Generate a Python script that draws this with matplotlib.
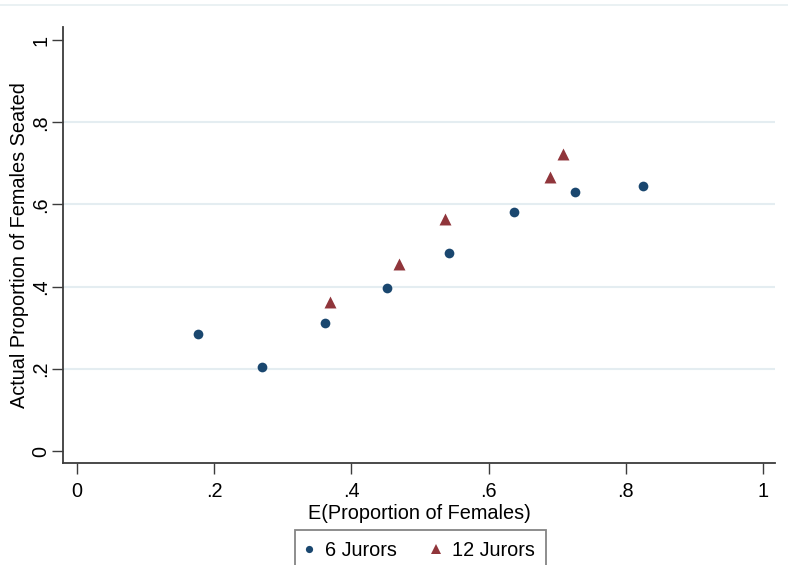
import matplotlib
matplotlib.use("Agg")
import matplotlib.pyplot as plt
from matplotlib.lines import Line2D

# Data
x6 = [0.176, 0.270, 0.362, 0.452, 0.542, 0.637, 0.726, 0.825]
y6 = [0.286, 0.204, 0.312, 0.397, 0.483, 0.581, 0.630, 0.645]
x12 = [0.369, 0.470, 0.537, 0.689, 0.709]
y12 = [0.362, 0.455, 0.564, 0.667, 0.722]
ticks = [0, 0.2, 0.4, 0.6, 0.8, 1]
tick_labels = ["0", ".2", ".4", ".6", ".8", "1"]
series_labels = ["6 Jurors", "12 Jurors"]

navy = "#1a476f"
maroon = "#90353b"
axis_col = "#3c3c3c"
grid_col = "#e4edf1"
FS = 14.3

plt.rcParams["font.family"] = ["Liberation Sans", "DejaVu Sans"]

fig = plt.figure(figsize=(7.88, 5.65), dpi=100)
ax = fig.add_axes([63/788, (565-463)/565, (775-63)/788, (463-27)/565])

ax.scatter(x6, y6, s=7.0**2, marker="o", color=navy, zorder=3, linewidths=0)
ax.scatter(x12, y12, s=8.6**2, marker="^", color=maroon, zorder=3, linewidths=0)

ax.set_xlim(-0.0204, 1.0175)
ax.set_ylim(-0.029, 1.0316)

ax.set_xticks(ticks)
ax.set_xticklabels(tick_labels)
ax.set_yticks(ticks)
ax.set_yticklabels(tick_labels, rotation=90, va="center")

ax.tick_params(axis="both", direction="out", length=8, width=1.0, color=axis_col,
               labelsize=FS, labelcolor="#000000")
ax.tick_params(axis="x", pad=6)
ax.tick_params(axis="y", pad=1.0)

for side in ["top", "right"]:
    ax.spines[side].set_visible(False)
for side in ["left", "bottom"]:
    ax.spines[side].set_color(axis_col)
    ax.spines[side].set_linewidth(1.3)

ax.yaxis.grid(True, color=grid_col, linewidth=1.5, zorder=0)
ax.set_axisbelow(True)
gl = ax.yaxis.get_gridlines()
gl[0].set_visible(False)
gl[-1].set_visible(False)

ax.set_xlabel("E(Proportion of Females)", fontsize=FS, labelpad=2)
ax.set_ylabel("Actual Proportion of Females Seated", fontsize=FS, labelpad=1.5)

handles = [
    Line2D([], [], linestyle="none", marker="o", markersize=5.2, color=navy, markeredgewidth=0),
    Line2D([], [], linestyle="none", marker="^", markersize=6.8, color=maroon, markeredgewidth=0),
]
leg = fig.legend(handles, series_labels, loc="upper center", ncol=2,
                 bbox_to_anchor=(420.5/788, (565-530)/565),
                 fontsize=FS, frameon=True, fancybox=False,
                 handlelength=0.3, handletextpad=0.65, columnspacing=1.85,
                 borderpad=0.55, borderaxespad=0)
leg.get_frame().set_edgecolor("#666666")
leg.get_frame().set_linewidth(1.3)

fig.add_artist(Line2D([0, 1], [1 - 5/565, 1 - 5/565], transform=fig.transFigure,
                      color="#e6eff1", linewidth=1.2))

fig.savefig("out.png", dpi=100)
